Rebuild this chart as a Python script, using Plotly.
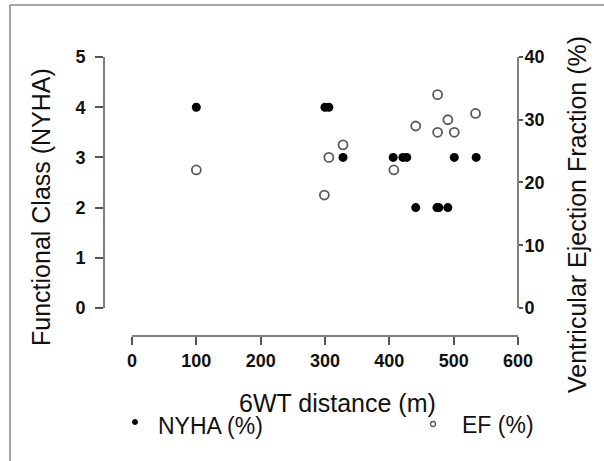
import plotly.graph_objects as go

# 6WT distance (m) vs NYHA class (left axis) and EF % (right axis)
nyha_dist = [100, 300, 306, 328, 406, 421, 427, 441, 474, 477, 491, 501, 535]
nyha_class = [4, 4, 4, 3, 3, 3, 3, 2, 2, 2, 2, 3, 3]

ef_dist = [100, 299, 306, 328, 407, 441, 475, 475, 491, 501, 534]
ef_value = [22, 18, 24, 26, 22, 29, 34, 28, 30, 28, 31]

x_ticks = [0, 100, 200, 300, 400, 500, 600]
y_ticks = [0, 1, 2, 3, 4, 5]
y2_ticks = [0, 10, 20, 30, 40]

W, H = 604, 461
L, R, T, B = 104, 518, 57, 336  # plot area in pixels

FONT = "Arial, Liberation Sans, sans-serif"
AXIS_COL = "#555555"


def px(x):
    return (x - L) / (R - L)


def py(y):
    return (B - y) / (B - T)


fig = go.Figure()
fig.add_trace(go.Scatter(x=nyha_dist, y=nyha_class, mode="markers", name="NYHA (%)",
                         marker=dict(symbol="circle", size=9, color="black"),
                         showlegend=False))
fig.add_trace(go.Scatter(x=ef_dist, y=ef_value, mode="markers", name="EF (%)", yaxis="y2",
                         marker=dict(symbol="circle-open", size=9, color="#5a5a5a",
                                     line=dict(width=1.8, color="#5a5a5a")),
                         showlegend=False))

tickfont = dict(family=FONT, size=18, color="#111111", weight="bold")

fig.update_layout(
    width=W, height=H,
    margin=dict(l=L, r=W - R, t=T, b=H - B),
    paper_bgcolor="white", plot_bgcolor="white",
    xaxis=dict(range=[-43.5, 600], tickvals=x_ticks, ticks="outside", ticklen=8,
               tickcolor=AXIS_COL, tickwidth=1.5, showline=False, showgrid=False,
               zeroline=False, tickfont=tickfont),
    yaxis=dict(range=[-0.558, 5], tickvals=y_ticks, ticks="outside", ticklen=8,
               tickcolor=AXIS_COL, tickwidth=1.5, showline=False, showgrid=False,
               zeroline=False, tickfont=tickfont, ticklabelstandoff=6),
    yaxis2=dict(range=[-4.464, 40], tickvals=y2_ticks, ticks="outside", ticklen=4,
                tickcolor=AXIS_COL, tickwidth=1.5, overlaying="y", side="right",
                showline=False, showgrid=False, zeroline=False, tickfont=tickfont,
                ticklabelstandoff=-2),
)

# R-style axis lines spanning only first to last tick
fig.add_shape(type="line", xref="x", yref="paper", x0=0, x1=600, y0=0, y1=0,
              line=dict(color=AXIS_COL, width=1.5))
fig.add_shape(type="line", xref="paper", yref="y", x0=0, x1=0, y0=0, y1=5,
              line=dict(color=AXIS_COL, width=1.5))
fig.add_shape(type="line", xref="paper", yref="y2", x0=1, x1=1, y0=0, y1=40,
              line=dict(color=AXIS_COL, width=1.5))

# outer frame (top and left edges)
fig.add_shape(type="line", xref="paper", yref="paper", x0=px(10), x1=px(604),
              y0=py(5), y1=py(5), line=dict(color="#888888", width=1.5))
fig.add_shape(type="line", xref="paper", yref="paper", x0=px(10), x1=px(10),
              y0=py(5), y1=py(461), line=dict(color="#888888", width=1.5))

title_font = dict(family=FONT, size=25, color="#111111")
fig.add_annotation(text="6WT distance (m)", xref="paper", yref="paper",
                   x=px(337.5), y=py(403), showarrow=False, font=title_font,
                   xanchor="center", yanchor="middle")
fig.add_annotation(text="Functional Class (NYHA)", xref="paper", yref="paper",
                   x=px(41), y=py(207), showarrow=False, font=title_font, textangle=-90,
                   xanchor="center", yanchor="middle")
fig.add_annotation(text="Ventricular Ejection Fraction (%)", xref="paper", yref="paper",
                   x=px(577), y=py(215), showarrow=False, font=title_font, textangle=-90,
                   xanchor="center", yanchor="middle")

# legend drawn beneath the axis title
legend_font = dict(family=FONT, size=23, color="#111111")
fig.add_shape(type="circle", xref="paper", yref="paper",
              x0=px(132.5), x1=px(137.5), y0=py(419.5), y1=py(424.5),
              fillcolor="black", line=dict(color="black", width=1))
fig.add_annotation(text="NYHA (%)", xref="paper", yref="paper", x=px(156), y=py(426),
                   showarrow=False, font=legend_font, xanchor="left", yanchor="middle")
fig.add_shape(type="circle", xref="paper", yref="paper",
              x0=px(430.5), x1=px(435.5), y0=py(421.5), y1=py(426.5),
              line=dict(color="#5a5a5a", width=1.3))
fig.add_annotation(text="EF (%)", xref="paper", yref="paper", x=px(460), y=py(425),
                   showarrow=False, font=legend_font, xanchor="left", yanchor="middle")

# drop the browser's default body margin so the figure sits at the page corner
fig.write_html("out.html", config={"displayModeBar": False},
               post_script="document.body.style.margin='0px';")
